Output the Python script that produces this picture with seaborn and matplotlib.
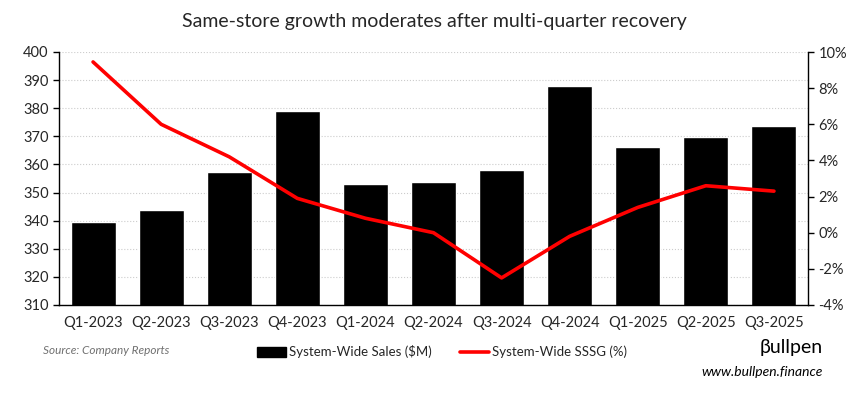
import numpy as np
import pandas as pd
import matplotlib
matplotlib.use("Agg")
import matplotlib.pyplot as plt
import matplotlib.ticker as mtick
from matplotlib.patches import Patch
from matplotlib.lines import Line2D
import seaborn as sns

# Chart data
quarters = ["Q1-2023", "Q2-2023", "Q3-2023", "Q4-2023", "Q1-2024", "Q2-2024",
            "Q3-2024", "Q4-2024", "Q1-2025", "Q2-2025", "Q3-2025"]
sales = [339.5, 343.8, 357.4, 379.1, 353.1, 353.8, 358.1, 388.0, 366.3, 369.8, 373.8]
sssg = [9.45, 6.0, 4.2, 1.9, 0.8, 0.0, -2.5, -0.2, 1.4, 2.6, 2.3]

sns.set_style("white")
plt.rcParams['font.family'] = ['Lato', 'DejaVu Sans']

df = pd.DataFrame({'quarter': quarters, 'sales': sales, 'sssg': sssg})
df['pos'] = np.arange(len(df))

fig = plt.figure(figsize=(8.68, 3.95), dpi=100)
ax = fig.add_axes([59 / 868, 1 - 305 / 395, (808 - 59) / 868, (305 - 52) / 395])

# Bars: system-wide sales
sns.barplot(data=df, x='quarter', y='sales', color='black', width=0.66,
            saturation=1, ax=ax, zorder=2)
ax.set_ylim(310, 400)
ax.set_yticks(range(310, 401, 10))
ax.set_xlim(-0.5, len(df) - 0.5)
ax.set_xlabel('')
ax.set_ylabel('')
ax.yaxis.grid(True, linestyle=':', color='#cccccc', linewidth=0.8, zorder=0)
ax.set_axisbelow(True)

# category boundary ticks on x axis
ax.set_xticks(np.arange(len(df)))
ax.set_xticklabels(quarters, fontsize=10.5)
ax.set_xticks(np.arange(-0.5, len(df) + 0.5, 1), minor=True)
ax.tick_params(axis='x', which='major', length=0, pad=8)
ax.tick_params(axis='x', which='minor', length=4, direction='out', width=1, color='black')
ax.tick_params(axis='y', length=4, direction='out', width=1, color='black', labelsize=10.5, left=True)

for side in ['left', 'bottom']:
    ax.spines[side].set_color('black')
    ax.spines[side].set_linewidth(1)
ax.spines['top'].set_visible(False)
ax.spines['right'].set_visible(False)

# Line: SSSG on secondary axis
ax2 = ax.twinx()
sns.lineplot(data=df, x='pos', y='sssg', color='#ff0000', linewidth=2.6, ax=ax2, zorder=3)
ax2.set_ylim(-4, 10)
ax2.set_yticks(range(-4, 11, 2))
ax2.yaxis.set_major_formatter(mtick.FuncFormatter(lambda v, p: f"{int(v)}%"))
ax2.set_ylabel('')
ax2.set_xlabel('')
ax2.tick_params(axis='y', length=4, direction='out', width=1, color='black', labelsize=10.5, right=True)
ax2.spines['top'].set_visible(False)
ax2.spines['left'].set_visible(False)
ax2.spines['bottom'].set_visible(False)
ax2.spines['right'].set_color('black')
ax2.spines['right'].set_linewidth(1)
ax2.grid(False)

fig.text(0.5, 1 - 21 / 395, "Same-store growth moderates after multi-quarter recovery",
         ha='center', va='center', fontsize=14)

handles = [Patch(facecolor='black', edgecolor='black'),
           Line2D([0], [0], color='#ff0000', linewidth=2.6)]
fig.legend(handles, ['System-Wide Sales ($M)', 'System-Wide SSSG (%)'],
           loc='center', bbox_to_anchor=(442 / 868, 1 - 352 / 395), ncol=2,
           frameon=False, fontsize=9.5, handlelength=2.2, handletextpad=0.2,
           columnspacing=2.2)

fig.text(43 / 868, 1 - 350 / 395, "Source: Company Reports", ha='left', va='center',
         fontsize=8.5, style='italic', color='#707070')
fig.text(823 / 868, 1 - 348 / 395, "\u03b2ullpen", ha='right', va='center', fontsize=14,
         color='black')
fig.text(823 / 868, 1 - 372 / 395, "www.bullpen.finance", ha='right', va='center',
         fontsize=10, style='italic', color='black')

fig.savefig("out.png", dpi=100)
